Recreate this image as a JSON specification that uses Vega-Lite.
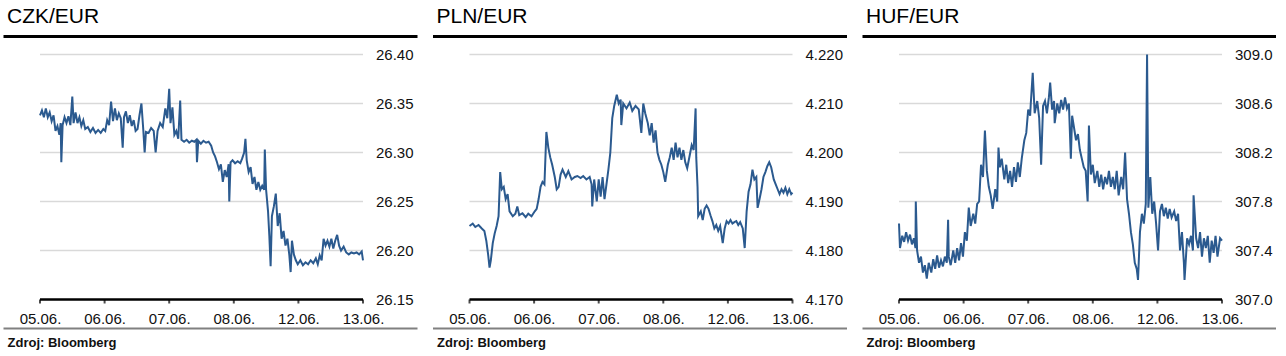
{
  "$schema": "https://vega.github.io/schema/vega-lite/v6.json",
  "padding": {"left": 3, "top": 5.5, "right": 0, "bottom": 0},
  "background": "white",
  "config": {"font": "Liberation Sans", "view": {"stroke": null}},
  "spacing": 15.5,
  "datasets": {
    "czk": [
      {"t":0.00,"v":26.338},{"t":0.03,"v":26.343},{"t":0.06,"v":26.336},{"t":0.09,"v":26.345},{"t":0.12,"v":26.336},{"t":0.15,"v":26.341},{"t":0.18,"v":26.332},{"t":0.21,"v":26.338},{"t":0.24,"v":26.322},{"t":0.27,"v":26.327},{"t":0.30,"v":26.318},{"t":0.32,"v":26.330},{"t":0.33,"v":26.290},{"t":0.35,"v":26.328},{"t":0.38,"v":26.336},{"t":0.41,"v":26.330},{"t":0.44,"v":26.337},{"t":0.47,"v":26.328},{"t":0.50,"v":26.357},{"t":0.52,"v":26.330},{"t":0.55,"v":26.341},{"t":0.58,"v":26.330},{"t":0.61,"v":26.336},{"t":0.64,"v":26.327},{"t":0.67,"v":26.333},{"t":0.70,"v":26.324},{"t":0.74,"v":26.326},{"t":0.78,"v":26.321},{"t":0.82,"v":26.325},{"t":0.86,"v":26.320},{"t":0.90,"v":26.323},{"t":0.94,"v":26.320},{"t":0.98,"v":26.324},{"t":1.01,"v":26.322},{"t":1.04,"v":26.333},{"t":1.07,"v":26.328},{"t":1.10,"v":26.352},{"t":1.13,"v":26.332},{"t":1.16,"v":26.345},{"t":1.19,"v":26.333},{"t":1.22,"v":26.340},{"t":1.25,"v":26.335},{"t":1.28,"v":26.305},{"t":1.30,"v":26.336},{"t":1.33,"v":26.342},{"t":1.36,"v":26.330},{"t":1.39,"v":26.338},{"t":1.42,"v":26.327},{"t":1.45,"v":26.333},{"t":1.48,"v":26.322},{"t":1.51,"v":26.324},{"t":1.54,"v":26.338},{"t":1.57,"v":26.350},{"t":1.60,"v":26.322},{"t":1.62,"v":26.300},{"t":1.64,"v":26.321},{"t":1.68,"v":26.320},{"t":1.72,"v":26.325},{"t":1.76,"v":26.322},{"t":1.79,"v":26.300},{"t":1.82,"v":26.322},{"t":1.86,"v":26.330},{"t":1.90,"v":26.326},{"t":1.94,"v":26.345},{"t":1.97,"v":26.335},{"t":2.00,"v":26.365},{"t":2.02,"v":26.330},{"t":2.05,"v":26.346},{"t":2.08,"v":26.318},{"t":2.11,"v":26.322},{"t":2.14,"v":26.314},{"t":2.17,"v":26.353},{"t":2.19,"v":26.313},{"t":2.23,"v":26.311},{"t":2.27,"v":26.313},{"t":2.31,"v":26.310},{"t":2.35,"v":26.312},{"t":2.39,"v":26.311},{"t":2.42,"v":26.313},{"t":2.43,"v":26.290},{"t":2.45,"v":26.312},{"t":2.49,"v":26.309},{"t":2.53,"v":26.312},{"t":2.57,"v":26.310},{"t":2.61,"v":26.311},{"t":2.65,"v":26.307},{"t":2.68,"v":26.300},{"t":2.71,"v":26.296},{"t":2.74,"v":26.290},{"t":2.77,"v":26.283},{"t":2.80,"v":26.288},{"t":2.83,"v":26.270},{"t":2.86,"v":26.282},{"t":2.89,"v":26.275},{"t":2.92,"v":26.288},{"t":2.93,"v":26.250},{"t":2.95,"v":26.290},{"t":2.98,"v":26.292},{"t":3.02,"v":26.289},{"t":3.06,"v":26.291},{"t":3.10,"v":26.289},{"t":3.13,"v":26.294},{"t":3.16,"v":26.300},{"t":3.18,"v":26.314},{"t":3.20,"v":26.292},{"t":3.23,"v":26.280},{"t":3.26,"v":26.285},{"t":3.29,"v":26.268},{"t":3.32,"v":26.275},{"t":3.35,"v":26.262},{"t":3.38,"v":26.270},{"t":3.41,"v":26.262},{"t":3.44,"v":26.266},{"t":3.47,"v":26.262},{"t":3.48,"v":26.303},{"t":3.50,"v":26.262},{"t":3.53,"v":26.240},{"t":3.55,"v":26.215},{"t":3.57,"v":26.184},{"t":3.59,"v":26.235},{"t":3.62,"v":26.245},{"t":3.65,"v":26.258},{"t":3.68,"v":26.225},{"t":3.71,"v":26.238},{"t":3.74,"v":26.212},{"t":3.77,"v":26.220},{"t":3.80,"v":26.205},{"t":3.83,"v":26.212},{"t":3.86,"v":26.195},{"t":3.88,"v":26.178},{"t":3.90,"v":26.210},{"t":3.93,"v":26.196},{"t":3.96,"v":26.190},{"t":3.99,"v":26.186},{"t":4.03,"v":26.190},{"t":4.07,"v":26.185},{"t":4.11,"v":26.188},{"t":4.15,"v":26.186},{"t":4.19,"v":26.190},{"t":4.23,"v":26.187},{"t":4.27,"v":26.192},{"t":4.30,"v":26.186},{"t":4.33,"v":26.195},{"t":4.36,"v":26.190},{"t":4.39,"v":26.212},{"t":4.42,"v":26.205},{"t":4.45,"v":26.210},{"t":4.48,"v":26.204},{"t":4.51,"v":26.212},{"t":4.54,"v":26.202},{"t":4.57,"v":26.210},{"t":4.60,"v":26.216},{"t":4.63,"v":26.205},{"t":4.66,"v":26.200},{"t":4.70,"v":26.204},{"t":4.74,"v":26.198},{"t":4.78,"v":26.196},{"t":4.82,"v":26.198},{"t":4.86,"v":26.197},{"t":4.90,"v":26.198},{"t":4.94,"v":26.196},{"t":4.98,"v":26.199},{"t":5.00,"v":26.190}
    ],
    "pln": [
      {"t":0.00,"v":4.1850},{"t":0.05,"v":4.1855},{"t":0.09,"v":4.1848},{"t":0.14,"v":4.1852},{"t":0.19,"v":4.1845},{"t":0.23,"v":4.1840},{"t":0.26,"v":4.1820},{"t":0.29,"v":4.1790},{"t":0.31,"v":4.1765},{"t":0.33,"v":4.1780},{"t":0.36,"v":4.1815},{"t":0.39,"v":4.1835},{"t":0.42,"v":4.1850},{"t":0.45,"v":4.1870},{"t":0.475,"v":4.1960},{"t":0.50,"v":4.1925},{"t":0.53,"v":4.1930},{"t":0.56,"v":4.1905},{"t":0.59,"v":4.1915},{"t":0.62,"v":4.1880},{"t":0.67,"v":4.1870},{"t":0.71,"v":4.1875},{"t":0.74,"v":4.1890},{"t":0.77,"v":4.1872},{"t":0.82,"v":4.1876},{"t":0.87,"v":4.1868},{"t":0.91,"v":4.1875},{"t":0.96,"v":4.1870},{"t":1.01,"v":4.1880},{"t":1.04,"v":4.1885},{"t":1.07,"v":4.1905},{"t":1.10,"v":4.1930},{"t":1.13,"v":4.1940},{"t":1.16,"v":4.1935},{"t":1.19,"v":4.2042},{"t":1.22,"v":4.2010},{"t":1.25,"v":4.1990},{"t":1.28,"v":4.1975},{"t":1.32,"v":4.1950},{"t":1.35,"v":4.1925},{"t":1.38,"v":4.1930},{"t":1.41,"v":4.1955},{"t":1.44,"v":4.1965},{"t":1.49,"v":4.1950},{"t":1.53,"v":4.1962},{"t":1.58,"v":4.1945},{"t":1.63,"v":4.1950},{"t":1.67,"v":4.1952},{"t":1.72,"v":4.1948},{"t":1.76,"v":4.1952},{"t":1.81,"v":4.1945},{"t":1.86,"v":4.1950},{"t":1.89,"v":4.1935},{"t":1.90,"v":4.1890},{"t":1.93,"v":4.1945},{"t":1.97,"v":4.1900},{"t":2.00,"v":4.1945},{"t":2.03,"v":4.1910},{"t":2.06,"v":4.1950},{"t":2.09,"v":4.1905},{"t":2.12,"v":4.1935},{"t":2.15,"v":4.1965},{"t":2.18,"v":4.2000},{"t":2.21,"v":4.2070},{"t":2.24,"v":4.2095},{"t":2.28,"v":4.2118},{"t":2.31,"v":4.2100},{"t":2.34,"v":4.2108},{"t":2.35,"v":4.2056},{"t":2.38,"v":4.2100},{"t":2.43,"v":4.2090},{"t":2.48,"v":4.2102},{"t":2.52,"v":4.2085},{"t":2.57,"v":4.2095},{"t":2.62,"v":4.2088},{"t":2.66,"v":4.2040},{"t":2.69,"v":4.2100},{"t":2.72,"v":4.2080},{"t":2.76,"v":4.2060},{"t":2.79,"v":4.2035},{"t":2.82,"v":4.2060},{"t":2.85,"v":4.2020},{"t":2.88,"v":4.2045},{"t":2.91,"v":4.2000},{"t":2.94,"v":4.1985},{"t":2.97,"v":4.1975},{"t":3.00,"v":4.1960},{"t":3.03,"v":4.1940},{"t":3.07,"v":4.1975},{"t":3.10,"v":4.1990},{"t":3.13,"v":4.2010},{"t":3.16,"v":4.1985},{"t":3.19,"v":4.2020},{"t":3.22,"v":4.1990},{"t":3.25,"v":4.2010},{"t":3.28,"v":4.1985},{"t":3.31,"v":4.2005},{"t":3.34,"v":4.1980},{"t":3.37,"v":4.1968},{"t":3.41,"v":4.1995},{"t":3.44,"v":4.2015},{"t":3.47,"v":4.2005},{"t":3.50,"v":4.2090},{"t":3.51,"v":4.1990},{"t":3.53,"v":4.1930},{"t":3.54,"v":4.1870},{"t":3.58,"v":4.1880},{"t":3.61,"v":4.1862},{"t":3.64,"v":4.1885},{"t":3.67,"v":4.1892},{"t":3.70,"v":4.1885},{"t":3.73,"v":4.1872},{"t":3.76,"v":4.1860},{"t":3.79,"v":4.1845},{"t":3.82,"v":4.1852},{"t":3.85,"v":4.1840},{"t":3.88,"v":4.1850},{"t":3.92,"v":4.1815},{"t":3.95,"v":4.1845},{"t":3.98,"v":4.1860},{"t":4.01,"v":4.1855},{"t":4.04,"v":4.1862},{"t":4.07,"v":4.1855},{"t":4.10,"v":4.1858},{"t":4.13,"v":4.1860},{"t":4.16,"v":4.1852},{"t":4.19,"v":4.1858},{"t":4.23,"v":4.1845},{"t":4.26,"v":4.1805},{"t":4.29,"v":4.1880},{"t":4.32,"v":4.1920},{"t":4.35,"v":4.1935},{"t":4.38,"v":4.1965},{"t":4.41,"v":4.1945},{"t":4.44,"v":4.1950},{"t":4.46,"v":4.1887},{"t":4.49,"v":4.1905},{"t":4.52,"v":4.1925},{"t":4.55,"v":4.1950},{"t":4.58,"v":4.1960},{"t":4.61,"v":4.1972},{"t":4.64,"v":4.1980},{"t":4.67,"v":4.1970},{"t":4.71,"v":4.1945},{"t":4.74,"v":4.1935},{"t":4.77,"v":4.1925},{"t":4.80,"v":4.1915},{"t":4.83,"v":4.1925},{"t":4.86,"v":4.1918},{"t":4.89,"v":4.1928},{"t":4.92,"v":4.1915},{"t":4.95,"v":4.1925},{"t":4.98,"v":4.1915},{"t":5.00,"v":4.1918}
    ],
    "huf": [
      {"t":0.00,"v":307.62},{"t":0.015,"v":307.42},{"t":0.05,"v":307.52},{"t":0.08,"v":307.47},{"t":0.11,"v":307.55},{"t":0.14,"v":307.48},{"t":0.17,"v":307.53},{"t":0.20,"v":307.45},{"t":0.23,"v":307.50},{"t":0.255,"v":307.42},{"t":0.26,"v":307.80},{"t":0.28,"v":307.40},{"t":0.31,"v":307.30},{"t":0.34,"v":307.35},{"t":0.37,"v":307.22},{"t":0.40,"v":307.28},{"t":0.43,"v":307.17},{"t":0.46,"v":307.30},{"t":0.50,"v":307.22},{"t":0.53,"v":307.33},{"t":0.56,"v":307.25},{"t":0.59,"v":307.36},{"t":0.62,"v":307.26},{"t":0.65,"v":307.32},{"t":0.68,"v":307.27},{"t":0.71,"v":307.35},{"t":0.74,"v":307.30},{"t":0.76,"v":307.65},{"t":0.77,"v":307.35},{"t":0.80,"v":307.28},{"t":0.84,"v":307.40},{"t":0.87,"v":307.30},{"t":0.90,"v":307.42},{"t":0.93,"v":307.32},{"t":0.96,"v":307.46},{"t":0.99,"v":307.35},{"t":1.02,"v":307.55},{"t":1.05,"v":307.48},{"t":1.08,"v":307.75},{"t":1.11,"v":307.60},{"t":1.15,"v":307.70},{"t":1.18,"v":307.62},{"t":1.21,"v":307.78},{"t":1.24,"v":307.80},{"t":1.27,"v":308.10},{"t":1.30,"v":308.00},{"t":1.33,"v":308.38},{"t":1.36,"v":308.05},{"t":1.39,"v":307.92},{"t":1.42,"v":307.85},{"t":1.45,"v":307.74},{"t":1.49,"v":307.90},{"t":1.52,"v":307.80},{"t":1.54,"v":308.24},{"t":1.56,"v":308.08},{"t":1.59,"v":308.15},{"t":1.63,"v":307.98},{"t":1.66,"v":308.10},{"t":1.69,"v":307.95},{"t":1.72,"v":308.05},{"t":1.75,"v":307.92},{"t":1.78,"v":308.08},{"t":1.81,"v":307.96},{"t":1.84,"v":308.12},{"t":1.87,"v":308.00},{"t":1.90,"v":308.15},{"t":1.94,"v":308.30},{"t":1.97,"v":308.36},{"t":2.00,"v":308.55},{"t":2.03,"v":308.50},{"t":2.04,"v":308.60},{"t":2.07,"v":308.85},{"t":2.10,"v":308.52},{"t":2.14,"v":308.62},{"t":2.17,"v":308.48},{"t":2.20,"v":308.10},{"t":2.23,"v":308.58},{"t":2.26,"v":308.62},{"t":2.29,"v":308.52},{"t":2.32,"v":308.65},{"t":2.34,"v":308.77},{"t":2.37,"v":308.55},{"t":2.40,"v":308.62},{"t":2.41,"v":308.44},{"t":2.45,"v":308.60},{"t":2.48,"v":308.52},{"t":2.51,"v":308.63},{"t":2.54,"v":308.55},{"t":2.57,"v":308.65},{"t":2.60,"v":308.56},{"t":2.63,"v":308.60},{"t":2.66,"v":308.15},{"t":2.68,"v":308.50},{"t":2.71,"v":308.40},{"t":2.74,"v":308.30},{"t":2.77,"v":308.35},{"t":2.80,"v":308.22},{"t":2.83,"v":308.15},{"t":2.86,"v":308.08},{"t":2.89,"v":308.05},{"t":2.92,"v":307.80},{"t":2.94,"v":308.42},{"t":2.97,"v":308.02},{"t":3.00,"v":308.10},{"t":3.03,"v":307.95},{"t":3.07,"v":308.05},{"t":3.10,"v":307.92},{"t":3.13,"v":308.02},{"t":3.16,"v":307.90},{"t":3.19,"v":308.00},{"t":3.22,"v":307.94},{"t":3.25,"v":308.05},{"t":3.28,"v":307.92},{"t":3.31,"v":308.00},{"t":3.34,"v":307.90},{"t":3.37,"v":308.05},{"t":3.40,"v":307.85},{"t":3.44,"v":308.00},{"t":3.47,"v":307.90},{"t":3.50,"v":308.20},{"t":3.53,"v":307.82},{"t":3.56,"v":307.70},{"t":3.59,"v":307.55},{"t":3.62,"v":307.45},{"t":3.65,"v":307.30},{"t":3.68,"v":307.25},{"t":3.70,"v":307.16},{"t":3.73,"v":307.55},{"t":3.76,"v":307.70},{"t":3.79,"v":307.62},{"t":3.82,"v":307.78},{"t":3.84,"v":309.00},{"t":3.86,"v":307.75},{"t":3.89,"v":308.00},{"t":3.92,"v":307.70},{"t":3.95,"v":307.80},{"t":3.98,"v":307.62},{"t":4.01,"v":307.40},{"t":4.04,"v":307.72},{"t":4.07,"v":307.78},{"t":4.10,"v":307.68},{"t":4.13,"v":307.75},{"t":4.16,"v":307.66},{"t":4.19,"v":307.74},{"t":4.22,"v":307.67},{"t":4.26,"v":307.72},{"t":4.29,"v":307.64},{"t":4.32,"v":307.70},{"t":4.35,"v":307.40},{"t":4.38,"v":307.55},{"t":4.41,"v":307.30},{"t":4.42,"v":307.16},{"t":4.46,"v":307.50},{"t":4.49,"v":307.45},{"t":4.52,"v":307.52},{"t":4.55,"v":307.40},{"t":4.56,"v":307.85},{"t":4.60,"v":307.50},{"t":4.63,"v":307.42},{"t":4.66,"v":307.55},{"t":4.69,"v":307.35},{"t":4.72,"v":307.50},{"t":4.75,"v":307.42},{"t":4.78,"v":307.52},{"t":4.81,"v":307.30},{"t":4.84,"v":307.48},{"t":4.87,"v":307.38},{"t":4.90,"v":307.52},{"t":4.93,"v":307.35},{"t":4.97,"v":307.50},{"t":5.00,"v":307.48}
    ],
    "days": [{"d":0},{"d":1},{"d":2},{"d":3},{"d":4},{"d":5}]
  },
  "hconcat": [
    {
      "width": 414, "height": 245,
      "title": {"text": "CZK/EUR", "anchor": "start", "frame": "group", "fontSize": 21, "fontWeight": "normal", "color": "#000000", "dx": 4, "offset": 9},
      "resolve": {"axis": {"x": "independent"}},
      "layer": [
        {
          "data": {"values": [{"g":26.40},{"g":26.35},{"g":26.30},{"g":26.25},{"g":26.20}]},
          "mark": {"type": "rule", "color": "#d9d9d9", "strokeWidth": 1.5},
          "encoding": {
            "x": {"datum": 0, "type": "quantitative", "axis": null, "scale": {"domain": [-0.5728, 5.8359], "nice": false, "zero": false}},
            "x2": {"datum": 5},
            "y": {"field": "g", "type": "quantitative", "axis": null, "scale": {"domain": [26.15, 26.40], "nice": false, "zero": false}}
          }
        },
        {
          "data": {"values": [{"g":26.40},{"g":26.35},{"g":26.30},{"g":26.25},{"g":26.20},{"g":26.15}]},
          "mark": {"type": "text", "align": "left", "baseline": "middle", "fontSize": 15, "color": "#111111"},
          "encoding": {
            "x": {"datum": 5.2012, "type": "quantitative", "axis": null},
            "y": {"field": "g", "type": "quantitative", "axis": null},
            "text": {"field": "g", "type": "quantitative", "format": ".2f"}
          }
        },
        {
          "data": {"values": [{"g":26.15}]},
          "mark": {"type": "rule", "color": "#000000", "strokeWidth": 2.5},
          "encoding": {
            "x": {"datum": 0, "type": "quantitative", "axis": null},
            "x2": {"datum": 5},
            "y": {"field": "g", "type": "quantitative", "axis": null}
          }
        },
        {
          "data": {"name": "czk"},
          "mark": {"type": "line", "color": "#2b5a8f", "strokeWidth": 2},
          "encoding": {
            "x": {"field": "t", "type": "quantitative", "axis": {"orient": "bottom", "offset": 28.5, "domain": true, "domainColor": "#808080", "domainWidth": 2, "ticks": false, "grid": false, "values": [0,1,2,3,4,5], "labelExpr": "['05.06.','06.06.','07.06.','08.06.','12.06.','13.06.'][datum.value]", "labelFontSize": 15, "labelColor": "#111111", "labelPadding": -17, "labelFlush": false, "labelOverlap": false, "title": "Zdroj: Bloomberg", "titleFontSize": 13, "titleFontWeight": "bold", "titleColor": "#111111", "titleAnchor": "start", "titleAlign": "left", "titleBaseline": "alphabetic", "titleX": 4, "titleY": 18}},
            "y": {"field": "v", "type": "quantitative", "axis": null}
          }
        },
        {
          "data": {"name": "days"},
          "mark": {"type": "tick", "orient": "vertical", "color": "#000000", "size": 4, "thickness": 2, "yOffset": 2},
          "encoding": {
            "x": {"field": "d", "type": "quantitative", "axis": {"orient": "top", "offset": 18.5, "domain": true, "domainColor": "#000000", "domainWidth": 3, "ticks": false, "labels": false, "grid": false, "title": null, "maxExtent": 0}},
            "y": {"datum": 26.15, "type": "quantitative", "axis": null}
          }
        }
      ]
    },
    {
      "width": 414, "height": 245,
      "title": {"text": "PLN/EUR", "anchor": "start", "frame": "group", "fontSize": 21, "fontWeight": "normal", "color": "#000000", "dx": 4, "offset": 9},
      "resolve": {"axis": {"x": "independent"}},
      "layer": [
        {
          "data": {"values": [{"g":4.22},{"g":4.21},{"g":4.20},{"g":4.19},{"g":4.18}]},
          "mark": {"type": "rule", "color": "#d9d9d9", "strokeWidth": 1.5},
          "encoding": {
            "x": {"datum": 0, "type": "quantitative", "axis": null, "scale": {"domain": [-0.5728, 5.8359], "nice": false, "zero": false}},
            "x2": {"datum": 5},
            "y": {"field": "g", "type": "quantitative", "axis": null, "scale": {"domain": [4.17, 4.22], "nice": false, "zero": false}}
          }
        },
        {
          "data": {"values": [{"g":4.22},{"g":4.21},{"g":4.20},{"g":4.19},{"g":4.18},{"g":4.17}]},
          "mark": {"type": "text", "align": "left", "baseline": "middle", "fontSize": 15, "color": "#111111"},
          "encoding": {
            "x": {"datum": 5.2012, "type": "quantitative", "axis": null},
            "y": {"field": "g", "type": "quantitative", "axis": null},
            "text": {"field": "g", "type": "quantitative", "format": ".3f"}
          }
        },
        {
          "data": {"values": [{"g":4.17}]},
          "mark": {"type": "rule", "color": "#000000", "strokeWidth": 2.5},
          "encoding": {
            "x": {"datum": 0, "type": "quantitative", "axis": null},
            "x2": {"datum": 5},
            "y": {"field": "g", "type": "quantitative", "axis": null}
          }
        },
        {
          "data": {"name": "pln"},
          "mark": {"type": "line", "color": "#2b5a8f", "strokeWidth": 2},
          "encoding": {
            "x": {"field": "t", "type": "quantitative", "axis": {"orient": "bottom", "offset": 28.5, "domain": true, "domainColor": "#808080", "domainWidth": 2, "ticks": false, "grid": false, "values": [0,1,2,3,4,5], "labelExpr": "['05.06.','06.06.','07.06.','08.06.','12.06.','13.06.'][datum.value]", "labelFontSize": 15, "labelColor": "#111111", "labelPadding": -17, "labelFlush": false, "labelOverlap": false, "title": "Zdroj: Bloomberg", "titleFontSize": 13, "titleFontWeight": "bold", "titleColor": "#111111", "titleAnchor": "start", "titleAlign": "left", "titleBaseline": "alphabetic", "titleX": 4, "titleY": 18}},
            "y": {"field": "v", "type": "quantitative", "axis": null}
          }
        },
        {
          "data": {"name": "days"},
          "mark": {"type": "tick", "orient": "vertical", "color": "#000000", "size": 4, "thickness": 2, "yOffset": 2},
          "encoding": {
            "x": {"field": "d", "type": "quantitative", "axis": {"orient": "top", "offset": 18.5, "domain": true, "domainColor": "#000000", "domainWidth": 3, "ticks": false, "labels": false, "grid": false, "title": null, "maxExtent": 0}},
            "y": {"datum": 4.17, "type": "quantitative", "axis": null}
          }
        }
      ]
    },
    {
      "width": 414, "height": 245,
      "title": {"text": "HUF/EUR", "anchor": "start", "frame": "group", "fontSize": 21, "fontWeight": "normal", "color": "#000000", "dx": 4, "offset": 9},
      "resolve": {"axis": {"x": "independent"}},
      "layer": [
        {
          "data": {"values": [{"g":309.0},{"g":308.6},{"g":308.2},{"g":307.8},{"g":307.4}]},
          "mark": {"type": "rule", "color": "#d9d9d9", "strokeWidth": 1.5},
          "encoding": {
            "x": {"datum": 0, "type": "quantitative", "axis": null, "scale": {"domain": [-0.5728, 5.8359], "nice": false, "zero": false}},
            "x2": {"datum": 5},
            "y": {"field": "g", "type": "quantitative", "axis": null, "scale": {"domain": [307.0, 309.0], "nice": false, "zero": false}}
          }
        },
        {
          "data": {"values": [{"g":309.0},{"g":308.6},{"g":308.2},{"g":307.8},{"g":307.4},{"g":307.0}]},
          "mark": {"type": "text", "align": "left", "baseline": "middle", "fontSize": 15, "color": "#111111"},
          "encoding": {
            "x": {"datum": 5.2012, "type": "quantitative", "axis": null},
            "y": {"field": "g", "type": "quantitative", "axis": null},
            "text": {"field": "g", "type": "quantitative", "format": ".1f"}
          }
        },
        {
          "data": {"values": [{"g":307.0}]},
          "mark": {"type": "rule", "color": "#000000", "strokeWidth": 2.5},
          "encoding": {
            "x": {"datum": 0, "type": "quantitative", "axis": null},
            "x2": {"datum": 5},
            "y": {"field": "g", "type": "quantitative", "axis": null}
          }
        },
        {
          "data": {"name": "huf"},
          "mark": {"type": "line", "color": "#2b5a8f", "strokeWidth": 2},
          "encoding": {
            "x": {"field": "t", "type": "quantitative", "axis": {"orient": "bottom", "offset": 28.5, "domain": true, "domainColor": "#808080", "domainWidth": 2, "ticks": false, "grid": false, "values": [0,1,2,3,4,5], "labelExpr": "['05.06.','06.06.','07.06.','08.06.','12.06.','13.06.'][datum.value]", "labelFontSize": 15, "labelColor": "#111111", "labelPadding": -17, "labelFlush": false, "labelOverlap": false, "title": "Zdroj: Bloomberg", "titleFontSize": 13, "titleFontWeight": "bold", "titleColor": "#111111", "titleAnchor": "start", "titleAlign": "left", "titleBaseline": "alphabetic", "titleX": 4, "titleY": 18}},
            "y": {"field": "v", "type": "quantitative", "axis": null}
          }
        },
        {
          "data": {"name": "days"},
          "mark": {"type": "tick", "orient": "vertical", "color": "#000000", "size": 4, "thickness": 2, "yOffset": 2},
          "encoding": {
            "x": {"field": "d", "type": "quantitative", "axis": {"orient": "top", "offset": 18.5, "domain": true, "domainColor": "#000000", "domainWidth": 3, "ticks": false, "labels": false, "grid": false, "title": null, "maxExtent": 0}},
            "y": {"datum": 307.0, "type": "quantitative", "axis": null}
          }
        }
      ]
    }
  ]
}
